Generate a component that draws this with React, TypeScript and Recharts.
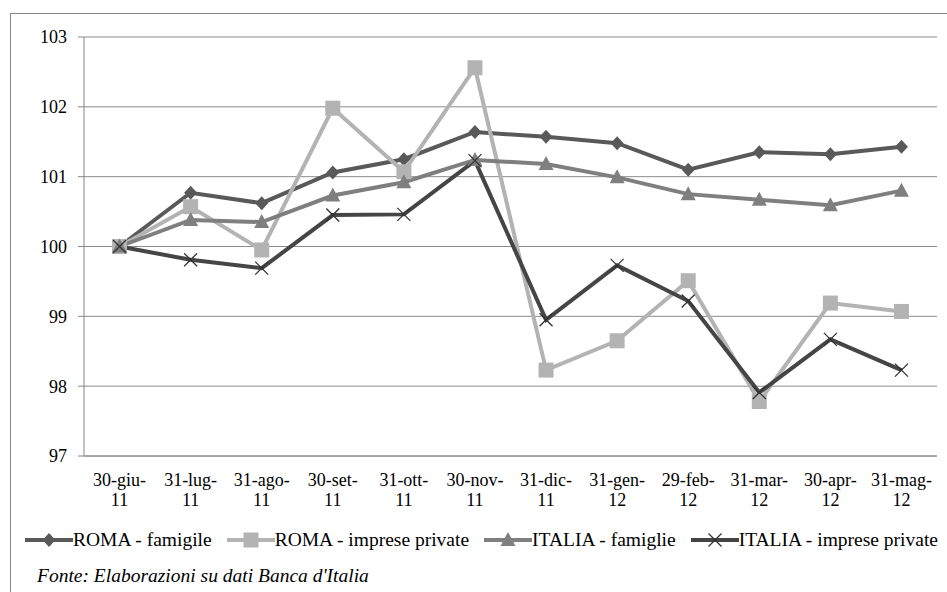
import React from "react";
import {
  CartesianGrid,
  Legend,
  Line,
  LineChart,
  XAxis,
  YAxis,
} from "recharts";

const dates = [
  "30-giu-11",
  "31-lug-11",
  "31-ago-11",
  "30-set-11",
  "31-ott-11",
  "30-nov-11",
  "31-dic-11",
  "31-gen-12",
  "29-feb-12",
  "31-mar-12",
  "30-apr-12",
  "31-mag-12",
];

const romaFamiglie = [100, 100.77, 100.62, 101.06, 101.25, 101.64, 101.57, 101.48, 101.1, 101.35, 101.32, 101.43];
const romaImprese = [100, 100.57, 99.95, 101.98, 101.07, 102.56, 98.23, 98.65, 99.51, 97.78, 99.19, 99.07];
const italiaFamiglie = [100, 100.38, 100.35, 100.73, 100.92, 101.24, 101.18, 100.99, 100.75, 100.67, 100.59, 100.8];
const italiaImprese = [100, 99.81, 99.69, 100.45, 100.46, 101.23, 98.95, 99.73, 99.22, 97.91, 98.67, 98.23];

const yTicks = [97, 98, 99, 100, 101, 102, 103];
const boundaryTicks = dates.map((_, i) => i).concat(dates.length);

const data = dates.map((date, i) => ({
  date,
  romaFam: romaFamiglie[i],
  romaImp: romaImprese[i],
  itaFam: italiaFamiglie[i],
  itaImp: italiaImprese[i],
}));

const FONT = '"Times New Roman", "DejaVu Serif", serif';
const AXIS = "#868686";

type Shape = "diamond" | "square" | "triangle" | "cross";

const series: { key: string; name: string; color: string; shape: Shape }[] = [
  { key: "romaFam", name: "ROMA - famigile", color: "#595959", shape: "diamond" },
  { key: "romaImp", name: "ROMA - imprese private", color: "#b3b3b3", shape: "square" },
  { key: "itaFam", name: "ITALIA - famiglie", color: "#7f7f7f", shape: "triangle" },
  { key: "itaImp", name: "ITALIA - imprese private", color: "#454545", shape: "cross" },
];

function Marker({ cx, cy, shape, color }: { cx: number; cy: number; shape: Shape; color: string }) {
  if (cx == null || cy == null) return null;
  if (shape === "diamond") {
    return <polygon points={`${cx},${cy - 7} ${cx + 6.5},${cy} ${cx},${cy + 7} ${cx - 6.5},${cy}`} fill={color} />;
  }
  if (shape === "square") {
    return <rect x={cx - 7.5} y={cy - 7.5} width={15} height={15} fill={color} />;
  }
  if (shape === "triangle") {
    return <polygon points={`${cx},${cy - 8} ${cx + 7.5},${cy + 6} ${cx - 7.5},${cy + 6}`} fill={color} />;
  }
  return (
    <g stroke="#333" strokeWidth={1.3}>
      <line x1={cx - 6.5} y1={cy - 6.5} x2={cx + 6.5} y2={cy + 6.5} />
      <line x1={cx - 6.5} y1={cy + 6.5} x2={cx + 6.5} y2={cy - 6.5} />
    </g>
  );
}

function DateTick(props: any) {
  const { x, y, payload } = props;
  const value: string = payload.value;
  const cut = value.lastIndexOf("-") + 1;
  return (
    <text x={x} y={y + 30} textAnchor="middle" fill="#000" fontSize={18} style={{ fontFamily: FONT }}>
      <tspan x={x}>{value.slice(0, cut)}</tspan>
      <tspan x={x} dy={20}>{value.slice(cut)}</tspan>
    </text>
  );
}

function ChartLegend() {
  return (
    <div style={{ display: "flex", alignItems: "center", paddingLeft: 25, fontFamily: FONT, fontSize: 19.5, lineHeight: "20px", color: "#000" }}>
      {series.map((s) => (
        <div key={s.key} style={{ display: "flex", alignItems: "center", marginRight: 15 }}>
          <svg width={48} height={20}>
            <line x1={0} y1={10} x2={48} y2={10} stroke={s.color} strokeWidth={4} />
            <Marker cx={24} cy={10} shape={s.shape} color={s.color} />
          </svg>
          <span style={{ whiteSpace: "nowrap" }}>{s.name}</span>
        </div>
      ))}
    </div>
  );
}

export default function App() {
  return (
    <div style={{ position: "absolute", left: 0, top: 0, width: 947, height: 592, background: "#fff", overflow: "hidden", fontFamily: FONT }}>
      <div style={{ position: "absolute", left: 10, top: 13, width: 1000, height: 700, border: `1px solid ${AXIS}` }} />
      <div style={{ position: "absolute", left: 0, top: 0 }}>
        <LineChart width={947} height={592} data={data} margin={{ top: 37, right: 10, left: 0, bottom: 50 }} style={{ fontFamily: FONT }}>
          <CartesianGrid vertical={false} stroke="#8c8c8c" xAxisId="cat" />
          <XAxis
            xAxisId="bounds"
            type="number"
            domain={[0, dates.length]}
            ticks={boundaryTicks}
            allowDataOverflow
            height={0}
            axisLine={false}
            tick={false}
            tickSize={6}
            tickLine={{ stroke: AXIS }}
          />
          <XAxis
            xAxisId="cat"
            dataKey="date"
            scale="band"
            height={56}
            interval={0}
            tickSize={0}
            tickMargin={0}
            tickLine={false}
            axisLine={{ stroke: AXIS }}
            tick={<DateTick />}
          />
          <YAxis
            width={84}
            domain={[97, 103]}
            ticks={yTicks}
            interval={0}
            tickSize={6}
            tickMargin={11}
            axisLine={{ stroke: AXIS }}
            tickLine={{ stroke: AXIS }}
            tick={{ fill: "#000", fontSize: 18, style: { fontFamily: FONT } }}
          />
          <Legend
            verticalAlign="bottom"
            content={() => <ChartLegend />}
            wrapperStyle={{ position: "absolute", left: 0, top: 530, width: 947, height: 30 }}
          />
          {series.map((s) => (
            <Line
              key={s.key}
              xAxisId="cat"
              dataKey={s.key}
              name={s.name}
              stroke={s.color}
              strokeWidth={4}
              isAnimationActive={false}
              dot={(p: any) => <Marker key={`${s.key}-${p.index}`} cx={p.cx} cy={p.cy} shape={s.shape} color={s.color} />}
              activeDot={false}
            />
          ))}
        </LineChart>
      </div>
      <div style={{ position: "absolute", left: 37, top: 566, fontFamily: FONT, fontStyle: "italic", fontSize: 19.5, lineHeight: "20px", color: "#000", whiteSpace: "nowrap" }}>
        Fonte: Elaborazioni su dati Banca d'Italia
      </div>
    </div>
  );
}
